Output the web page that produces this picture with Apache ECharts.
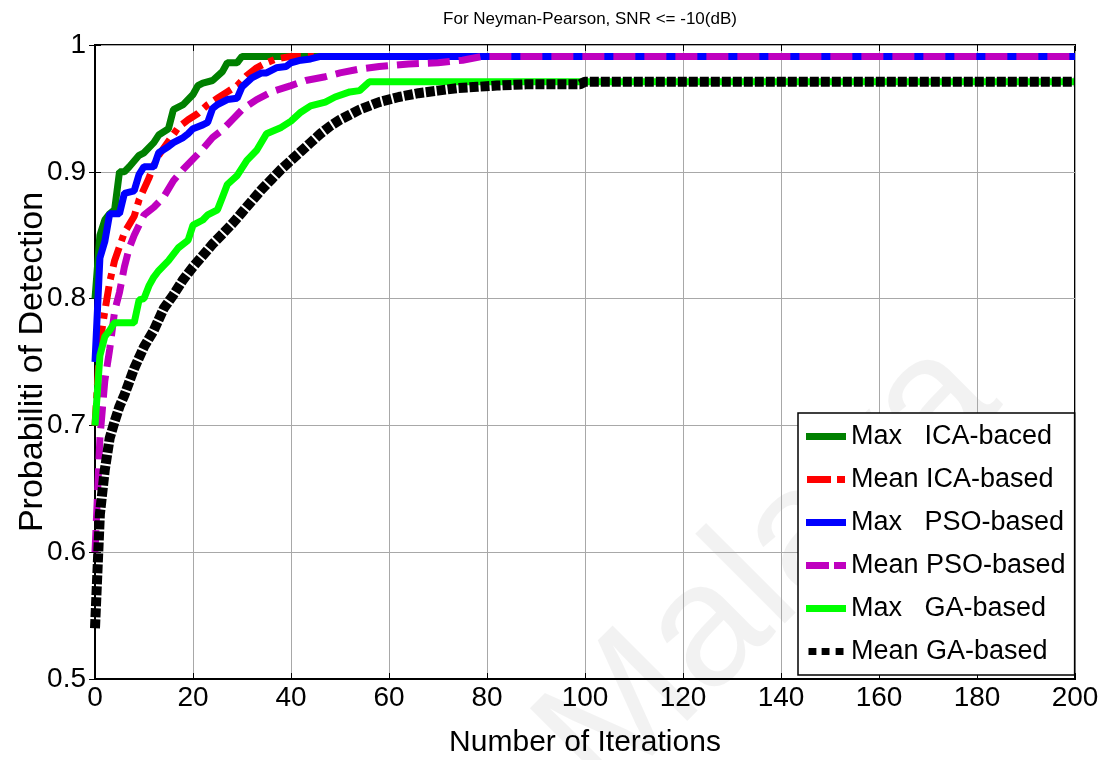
<!DOCTYPE html>
<html>
<head>
<meta charset="utf-8">
<script src="https://cdn.jsdelivr.net/npm/echarts@6/dist/echarts.min.js"></script>
<style>
  html, body { margin: 0; padding: 0; background: #fff; }
  #chart { width: 1113px; height: 760px; }
</style>
</head>
<body>
<div id="chart"></div>
<script>
// Probabiliti of detection vs iterations, [iteration, Pd] pairs
const seriesNames = ['Max   ICA-baced', 'Mean ICA-based', 'Max   PSO-based', 'Mean PSO-based', 'Max   GA-based', 'Mean GA-based']

const maxICA = [[0, 0.80], [1, 0.85], [2, 0.862], [3, 0.867], [4, 0.87], [5, 0.90], [6, 0.90], [7, 0.904], [9, 0.913], [10, 0.915],
    [12, 0.923], [13, 0.929], [15, 0.934], [16, 0.949], [18, 0.953], [20, 0.961], [21, 0.968], [22, 0.970], [24, 0.972],
    [26, 0.979], [27, 0.986], [29, 0.986], [30, 0.991], [200, 0.991]]

const meanICA = [[0, 0.70], [1, 0.765], [2, 0.79], [3, 0.813], [4, 0.83], [6, 0.852], [8, 0.865], [9, 0.878], [11, 0.895],
    [12, 0.905], [13, 0.913], [15, 0.924], [17, 0.935], [19, 0.941], [21, 0.946], [23, 0.953], [25, 0.958], [27, 0.963],
    [29, 0.968], [31, 0.976], [33, 0.982], [35, 0.986], [37, 0.989], [40, 0.991], [200, 0.991]]

const maxPSO = [[0, 0.75], [1, 0.832], [2, 0.845], [3, 0.867], [5, 0.867], [6, 0.883], [8, 0.885], [9, 0.898], [10, 0.904],
    [12, 0.904], [13, 0.915], [15, 0.920], [16, 0.923], [18, 0.927], [19, 0.930], [20, 0.934], [22, 0.937], [23, 0.939],
    [24, 0.950], [25, 0.953], [27, 0.957], [29, 0.958], [30, 0.967], [32, 0.974], [34, 0.978], [35, 0.978], [37, 0.982],
    [39, 0.983], [40, 0.986], [42, 0.988], [44, 0.989], [46, 0.991], [200, 0.991]]

const meanPSO = [[0, 0.60], [1, 0.69], [2, 0.735], [3, 0.76], [4, 0.79], [5, 0.805], [6, 0.825], [7, 0.84], [8, 0.85],
    [10, 0.866], [12, 0.872], [14, 0.88], [16, 0.893], [18, 0.902], [20, 0.91], [22, 0.918], [24, 0.927], [26, 0.933],
    [28, 0.941], [30, 0.949], [33, 0.957], [36, 0.963], [40, 0.968], [43, 0.972], [47, 0.975], [50, 0.978], [54, 0.981],
    [58, 0.983], [64, 0.985], [70, 0.986], [75, 0.988], [79, 0.991], [200, 0.991]]

const maxGA = [[0, 0.70], [1, 0.755], [2, 0.77], [3, 0.775], [4, 0.781], [8, 0.781], [9, 0.799], [10, 0.80], [11, 0.81],
    [12, 0.817], [13, 0.822], [15, 0.83], [17, 0.84], [19, 0.846], [20, 0.858], [22, 0.862], [23, 0.866], [25, 0.87],
    [26, 0.88], [27, 0.89], [29, 0.897], [31, 0.909], [33, 0.917], [35, 0.93], [38, 0.935], [40, 0.94], [42, 0.947],
    [44, 0.952], [47, 0.955], [49, 0.959], [52, 0.963], [54, 0.964], [56, 0.971], [200, 0.971]]

const meanGA = [[0, 0.54], [1, 0.63], [2, 0.665], [3, 0.69], [4, 0.703], [5, 0.715], [6, 0.724], [8, 0.745], [10, 0.762],
    [12, 0.775], [14, 0.792], [16, 0.803], [18, 0.815], [20, 0.825], [22, 0.834], [24, 0.843], [26, 0.851], [28, 0.859],
    [30, 0.868], [32, 0.877], [34, 0.886], [36, 0.894], [38, 0.902], [40, 0.909], [42, 0.916], [44, 0.923], [46, 0.93],
    [48, 0.936], [50, 0.941], [52, 0.945], [54, 0.949], [56, 0.952], [58, 0.955], [62, 0.959], [66, 0.962], [70, 0.964],
    [74, 0.966], [78, 0.967], [82, 0.968], [88, 0.969], [99, 0.969], [100, 0.971], [200, 0.971]]

const xTicks = [0, 200, 20]   // min, max, step
const yTicks = [0.5, 1, 0.1]

const FONT = 'Liberation Sans, Arial, sans-serif'

// legend glyphs drawn like the matlab line samples
const ICON_SOLID = 'path://M0,0H40V7H0Z'
const ICON_DASHDOT = 'path://M0,0H24V7H0Z M30,0H38V7H30Z'
const ICON_DASH = 'path://M0,0H23V7H0Z M28,0H40V7H28Z'
const ICON_DOT = 'path://M0,0H9V8H0Z M15,0H24V8H15Z M31,0H40V8H31Z'

const chart = echarts.init(document.getElementById('chart'))

function line(name, data, color, type, width) {
    return {
        name: name,
        type: 'line',
        data: data,
        showSymbol: false,
        symbol: 'none',
        animation: false,
        lineStyle: { color: color, width: width, type: type, cap: 'butt' },
        itemStyle: { color: color },
    }
}

const hiddenAxis = {
    axisLabel: { show: false },
    splitLine: { show: false },
    axisLine: { show: false },
    axisTick: { show: true, inside: true, length: 6, lineStyle: { color: '#000' } },
}

const option = {
    backgroundColor: '#fff',
    title: {
        text: 'For Neyman-Pearson, SNR <= -10(dB)',
        left: 585,
        textAlign: 'center',
        top: 6,
        textStyle: { fontFamily: FONT, fontSize: 17, fontWeight: 'normal', color: '#000' },
    },
    graphic: [{
        type: 'text',
        x: 770,
        y: 570,
        rotation: Math.PI / 4,
        z: -1,
        silent: true,
        style: {
            text: 'Malaya',
            font: '175px ' + FONT,
            fill: 'rgba(0,0,0,0.05)',
            align: 'center',
            verticalAlign: 'middle',
        },
    }],
    grid: {
        left: 95, right: 38, top: 45, bottom: 81,
        outerBoundsMode: 'none',
        show: true, borderColor: '#000', borderWidth: 2,
    },
    legend: {
        orient: 'vertical',
        left: 798,
        top: 413,
        padding: [10, 9, 10, 8],
        itemGap: 16,
        itemWidth: 40,
        itemHeight: 7,
        backgroundColor: '#fff',
        borderColor: '#000',
        borderWidth: 1.5,
        borderRadius: 0,
        textStyle: { fontFamily: FONT, fontSize: 27, lineHeight: 27, color: '#000', padding: [0, 0, 0, 0] },
        data: [
            { name: seriesNames[0], icon: ICON_SOLID },
            { name: seriesNames[1], icon: ICON_DASHDOT },
            { name: seriesNames[2], icon: ICON_SOLID },
            { name: seriesNames[3], icon: ICON_DASH },
            { name: seriesNames[4], icon: ICON_SOLID },
            { name: seriesNames[5], icon: ICON_DOT },
        ],
    },
    xAxis: [{
        type: 'value',
        min: xTicks[0],
        max: xTicks[1],
        interval: xTicks[2],
        name: 'Number of Iterations',
        nameLocation: 'middle',
        nameGap: 49,
        nameMoveOverlap: false,
        nameTextStyle: { fontFamily: FONT, fontSize: 30, color: '#000' },
        axisLine: { show: true, lineStyle: { color: '#000', width: 2 } },
        axisTick: { show: true, inside: true, length: 6, lineStyle: { color: '#000' } },
        axisLabel: { fontFamily: FONT, fontSize: 28, color: '#000', margin: 5 },
        splitLine: { show: true, lineStyle: { color: '#a8a8a8', width: 1 } },
    }, Object.assign({ type: 'value', position: 'top', min: xTicks[0], max: xTicks[1], interval: xTicks[2] }, hiddenAxis)],
    yAxis: [{
        type: 'value',
        min: yTicks[0],
        max: yTicks[1],
        interval: yTicks[2],
        name: 'Probabiliti of Detection',
        nameLocation: 'middle',
        nameGap: 45,
        nameMoveOverlap: false,
        nameTextStyle: { fontFamily: FONT, fontSize: 34, color: '#000' },
        axisLine: { show: true, lineStyle: { color: '#000', width: 2 } },
        axisTick: { show: true, inside: true, length: 6, lineStyle: { color: '#000' } },
        axisLabel: { fontFamily: FONT, fontSize: 28, color: '#000', margin: 9 },
        splitLine: { show: true, lineStyle: { color: '#a8a8a8', width: 1 } },
    }, Object.assign({ type: 'value', position: 'right', min: yTicks[0], max: yTicks[1], interval: yTicks[2] }, hiddenAxis)],
    series: [
        line(seriesNames[0], maxICA, '#008000', 'solid', 7),
        line(seriesNames[1], meanICA, '#ff0000', [20, 7, 6, 7], 7),
        line(seriesNames[2], maxPSO, '#0000ff', 'solid', 7),
        line(seriesNames[3], meanPSO, '#bf00bf', [22, 9], 7),
        line(seriesNames[4], maxGA, '#00ff00', 'solid', 7),
        line(seriesNames[5], meanGA, '#000000', [9, 2], 10),
    ],
    animation: false,
}

chart.setOption(option)
window.addEventListener('resize', () => chart.resize())
</script>
</body>
</html>
